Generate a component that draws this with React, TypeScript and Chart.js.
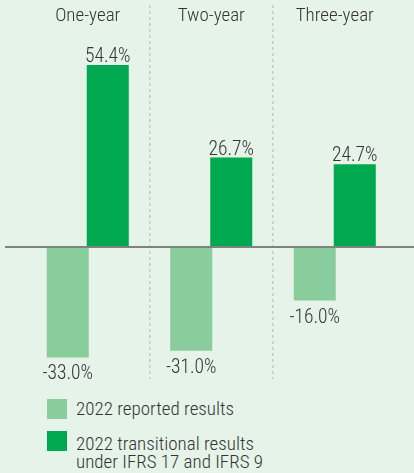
import React, { useEffect, useRef } from "react";
import { Chart, registerables } from "chart.js";

Chart.register(...registerables);

const categories = ["One-year", "Two-year", "Three-year"];
const reportedValues = [-33.0, -31.0, -16.0];
const transitionalValues = [54.4, 26.7, 24.7];
const reportedLabel = "2022 reported results";
const transitionalLabel = ["2022 transitional results", "under IFRS 17 and IFRS 9"];

const BG = "rgb(229,243,233)";
const LIGHT = "#8acd9c";
const DARK = "#00a84f";
const TEXT = "#333333";
const FONT = "'Roboto Condensed', 'Liberation Sans Narrow', sans-serif";
const WEIGHT = 300;

const overlayPlugin = {
  id: "overlay",
  afterDatasetsDraw(chart: any) {
    const ctx = chart.ctx;
    const x = chart.scales.x;
    const y = chart.scales.y;
    const zeroY = y.getPixelForValue(0);
    ctx.save();
    ctx.strokeStyle = "#7f837f";
    ctx.lineWidth = 2;
    ctx.beginPath();
    ctx.moveTo(5, zeroY);
    ctx.lineTo(chart.width, zeroY);
    ctx.stroke();
    ctx.fillStyle = TEXT;
    ctx.font = `${WEIGHT} 19px ${FONT}`;
    ctx.textAlign = "center";
    ctx.textBaseline = "alphabetic";
    categories.forEach((c, i) => {
      ctx.fillText(c, x.getPixelForValue(i), 21);
    });
    ctx.font = `${WEIGHT} 19.5px ${FONT}`;
    chart.data.datasets.forEach((ds: any, di: number) => {
      const meta = chart.getDatasetMeta(di);
      meta.data.forEach((bar: any, i: number) => {
        const v = ds.data[i];
        const txt = v.toFixed(1) + "%";
        if (v >= 0) {
          ctx.fillText(txt, bar.x, bar.y - 3);
        } else {
          ctx.fillText(txt, bar.x, bar.y + 22);
        }
      });
    });
    ctx.restore();
  },
};

export default function App() {
  const ref = useRef<HTMLCanvasElement>(null);
  useEffect(() => {
    document.body.style.margin = "0";
    document.body.style.background = BG;
    const chart = new Chart(ref.current!, {
      type: "bar",
      data: {
        labels: categories,
        datasets: [
          { label: reportedLabel, data: reportedValues, backgroundColor: LIGHT },
          { label: transitionalLabel.join(" "), data: transitionalValues, backgroundColor: DARK },
        ],
      },
      options: {
        responsive: false,
        animation: false,
        layout: { padding: { left: 26, right: 17.5, top: 5, bottom: 11 } },
        datasets: { bar: { categoryPercentage: 0.648, barPercentage: 1.05 } } as any,
        plugins: { legend: { display: false }, tooltip: { enabled: false } },
        scales: {
          x: {
            position: "top",
            offset: true,
            ticks: { display: false },
            border: { display: false, dash: [3, 3] },
            grid: {
              offset: true,
              drawTicks: false,
              color: (c: any) =>
                c.type !== "tick" || c.index === 0 ? "rgba(0,0,0,0)" : "#c3ccc5",
              lineWidth: 1.5,
            } as any,
          },
          y: {
            display: false,
            min: -39.45,
            max: 72.3,
          },
        },
      },
      plugins: [overlayPlugin],
    });
    return () => chart.destroy();
  }, []);

  const legendText: React.CSSProperties = {
    position: "absolute",
    left: 76,
    fontFamily: FONT,
    fontWeight: WEIGHT,
    fontSize: 19,
    color: TEXT,
    lineHeight: "18.3px",
    whiteSpace: "nowrap",
  };
  return (
    <div style={{ position: "relative", width: 414, height: 473, background: BG, overflow: "hidden" }}>
      <canvas ref={ref} width={414} height={390} style={{ display: "block" }} />
      <div style={{ position: "absolute", left: 47, top: 399, width: 20, height: 20, background: LIGHT }} />
      <div style={{ ...legendText, top: 399.5 }}>{reportedLabel}</div>
      <div style={{ position: "absolute", left: 47, top: 431, width: 20, height: 20, background: DARK }} />
      <div style={{ ...legendText, top: 434.5 }}>
        {transitionalLabel[0]}
        <br />
        {transitionalLabel[1]}
      </div>
    </div>
  );
}
